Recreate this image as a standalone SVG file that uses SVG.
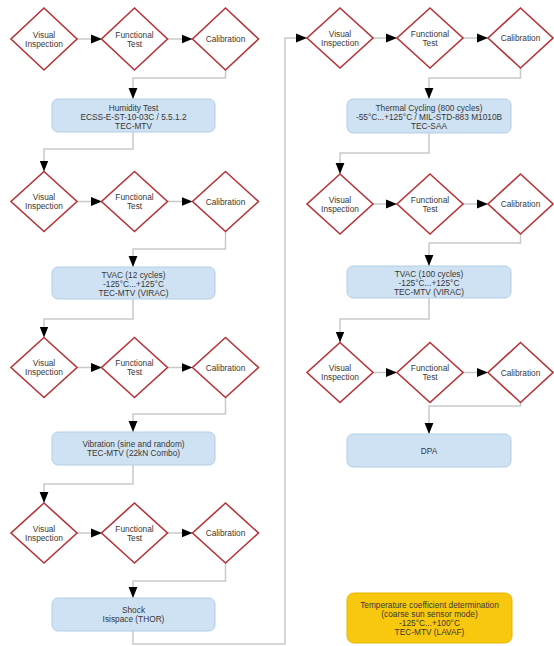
<svg xmlns="http://www.w3.org/2000/svg" width="554" height="646" viewBox="0 0 554 646">
<style>
.dia{fill:#fff;stroke:#b5343a;stroke-width:1.6}
.box{fill:#cfe2f3;stroke:#b3cfe5;stroke-width:1}
.ybox{fill:#f8c80f;stroke:#e6b400;stroke-width:1}
.t{font-family:"Liberation Sans",Arial,sans-serif;font-size:8.3px;fill:#383838;text-anchor:middle}
.c{fill:none;stroke:#c9c9c9;stroke-width:1.5}
</style>
<defs>
<marker id="ah" markerUnits="userSpaceOnUse" markerWidth="11" markerHeight="11" viewBox="0 0 10 10" refX="10" refY="5" orient="auto">
<path d="M0,1 L10,5 L0,9 Z" fill="#000"/>
</marker>
</defs>
<rect width="554" height="646" fill="#fff"/>
<g id="connectors">
<path class="c" d="M77 39 H102" marker-end="url(#ah)"/>
<path class="c" d="M167.5 39 H192.5" marker-end="url(#ah)"/>
<path class="c" d="M225.5 69 V78 H133 V99" marker-end="url(#ah)"/>
<path class="c" d="M133 132 V149 H44 V171.5" marker-end="url(#ah)"/>
<path class="c" d="M77 201.5 H102" marker-end="url(#ah)"/>
<path class="c" d="M167.5 201.5 H192.5" marker-end="url(#ah)"/>
<path class="c" d="M225.5 231.5 V249 H133 V267" marker-end="url(#ah)"/>
<path class="c" d="M133 299 V319 H44 V337.5" marker-end="url(#ah)"/>
<path class="c" d="M77 367.5 H102" marker-end="url(#ah)"/>
<path class="c" d="M167.5 367.5 H192.5" marker-end="url(#ah)"/>
<path class="c" d="M225.5 397.5 V414 H133 V432" marker-end="url(#ah)"/>
<path class="c" d="M133 465 V484 H44 V503" marker-end="url(#ah)"/>
<path class="c" d="M77 533 H102" marker-end="url(#ah)"/>
<path class="c" d="M167.5 533 H192.5" marker-end="url(#ah)"/>
<path class="c" d="M225.5 563 V581 H133 V598" marker-end="url(#ah)"/>
<path class="c" d="M133 631 V644 H285 V38 H307" marker-end="url(#ah)"/>
<path class="c" d="M373 38 H397" marker-end="url(#ah)"/>
<path class="c" d="M463 38 H488" marker-end="url(#ah)"/>
<path class="c" d="M520.5 68 V78 H429 V99" marker-end="url(#ah)"/>
<path class="c" d="M429 133 V153 H340 V174" marker-end="url(#ah)"/>
<path class="c" d="M373 204 H397" marker-end="url(#ah)"/>
<path class="c" d="M463 204 H488" marker-end="url(#ah)"/>
<path class="c" d="M520.5 234 V243 H429 V266" marker-end="url(#ah)"/>
<path class="c" d="M429 298 V319 H340 V342.5" marker-end="url(#ah)"/>
<path class="c" d="M373 372.5 H397" marker-end="url(#ah)"/>
<path class="c" d="M463 372.5 H488" marker-end="url(#ah)"/>
<path class="c" d="M520.5 402.5 V406 H429 V434" marker-end="url(#ah)"/>
</g>

<g id="vi-l1"><polygon class="dia" points="44,8 77,39 44,70 11,39"/><text class="t" x="44" y="37.5">Visual</text><text class="t" x="44" y="46.5">Inspection</text></g>
<g id="ft-l1"><polygon class="dia" points="134.5,8 167.5,39 134.5,70 101.5,39"/><text class="t" x="134.5" y="37.5">Functional</text><text class="t" x="134.5" y="46.5">Test</text></g>
<g id="cal-l1"><polygon class="dia" points="225.5,8 258.5,39 225.5,70 192.5,39"/><text class="t" x="225.5" y="42">Calibration</text></g>
<g id="humidity"><rect class="box" x="52" y="99" width="163" height="33" rx="6"/><text class="t" x="133.5" y="110.5">Humidity Test</text><text class="t" x="133.5" y="119.5">ECSS-E-ST-10-03C / 5.5.1.2</text><text class="t" x="133.5" y="128.5">TEC-MTV</text></g>

<g id="vi-l2"><polygon class="dia" points="44,171.5 77,201.5 44,231.5 11,201.5"/><text class="t" x="44" y="200">Visual</text><text class="t" x="44" y="209">Inspection</text></g>
<g id="ft-l2"><polygon class="dia" points="134.5,171.5 167.5,201.5 134.5,231.5 101.5,201.5"/><text class="t" x="134.5" y="200">Functional</text><text class="t" x="134.5" y="209">Test</text></g>
<g id="cal-l2"><polygon class="dia" points="225.5,171.5 258.5,201.5 225.5,231.5 192.5,201.5"/><text class="t" x="225.5" y="204.5">Calibration</text></g>
<g id="tvac12"><rect class="box" x="52" y="267" width="163" height="32" rx="6"/><text class="t" x="133.5" y="277.5">TVAC (12 cycles)</text><text class="t" x="133.5" y="286.5">-125°C...+125°C</text><text class="t" x="133.5" y="295.5">TEC-MTV (VIRAC)</text></g>

<g id="vi-l3"><polygon class="dia" points="44,337.5 77,367.5 44,397.5 11,367.5"/><text class="t" x="44" y="366">Visual</text><text class="t" x="44" y="375">Inspection</text></g>
<g id="ft-l3"><polygon class="dia" points="134.5,337.5 167.5,367.5 134.5,397.5 101.5,367.5"/><text class="t" x="134.5" y="366">Functional</text><text class="t" x="134.5" y="375">Test</text></g>
<g id="cal-l3"><polygon class="dia" points="225.5,337.5 258.5,367.5 225.5,397.5 192.5,367.5"/><text class="t" x="225.5" y="370.5">Calibration</text></g>
<g id="vibration"><rect class="box" x="52" y="432" width="163" height="33" rx="6"/><text class="t" x="133.5" y="447">Vibration (sine and random)</text><text class="t" x="133.5" y="456">TEC-MTV (22kN Combo)</text></g>

<g id="vi-l4"><polygon class="dia" points="44,503 77,533 44,563 11,533"/><text class="t" x="44" y="531.5">Visual</text><text class="t" x="44" y="540.5">Inspection</text></g>
<g id="ft-l4"><polygon class="dia" points="134.5,503 167.5,533 134.5,563 101.5,533"/><text class="t" x="134.5" y="531.5">Functional</text><text class="t" x="134.5" y="540.5">Test</text></g>
<g id="cal-l4"><polygon class="dia" points="225.5,503 258.5,533 225.5,563 192.5,533"/><text class="t" x="225.5" y="536">Calibration</text></g>
<g id="shock"><rect class="box" x="52" y="598" width="163" height="33" rx="6"/><text class="t" x="133.5" y="613">Shock</text><text class="t" x="133.5" y="622">Isispace (THOR)</text></g>

<g id="vi-r1"><polygon class="dia" points="340,8 373,38 340,68 307,38"/><text class="t" x="340" y="36.5">Visual</text><text class="t" x="340" y="45.5">Inspection</text></g>
<g id="ft-r1"><polygon class="dia" points="430,8 463,38 430,68 397,38"/><text class="t" x="430" y="36.5">Functional</text><text class="t" x="430" y="45.5">Test</text></g>
<g id="cal-r1"><polygon class="dia" points="520.5,8 553,38 520.5,68 488,38"/><text class="t" x="520.5" y="41">Calibration</text></g>
<g id="thermal"><rect class="box" x="347" y="99" width="164" height="34" rx="6"/><text class="t" x="429" y="110.5">Thermal Cycling (800 cycles)</text><text class="t" x="429" y="119.5">-55°C...+125°C / MIL-STD-883 M1010B</text><text class="t" x="429" y="128.5">TEC-SAA</text></g>

<g id="vi-r2"><polygon class="dia" points="340,174 373,204 340,234 307,204"/><text class="t" x="340" y="202.5">Visual</text><text class="t" x="340" y="211.5">Inspection</text></g>
<g id="ft-r2"><polygon class="dia" points="430,174 463,204 430,234 397,204"/><text class="t" x="430" y="202.5">Functional</text><text class="t" x="430" y="211.5">Test</text></g>
<g id="cal-r2"><polygon class="dia" points="520.5,174 553,204 520.5,234 488,204"/><text class="t" x="520.5" y="207">Calibration</text></g>
<g id="tvac100"><rect class="box" x="347" y="266" width="164" height="32" rx="6"/><text class="t" x="429" y="276.5">TVAC (100 cycles)</text><text class="t" x="429" y="285.5">-125°C...+125°C</text><text class="t" x="429" y="294.5">TEC-MTV (VIRAC)</text></g>

<g id="vi-r3"><polygon class="dia" points="340,342.5 373,372.5 340,402.5 307,372.5"/><text class="t" x="340" y="371">Visual</text><text class="t" x="340" y="380">Inspection</text></g>
<g id="ft-r3"><polygon class="dia" points="430,342.5 463,372.5 430,402.5 397,372.5"/><text class="t" x="430" y="371">Functional</text><text class="t" x="430" y="380">Test</text></g>
<g id="cal-r3"><polygon class="dia" points="520.5,342.5 553,372.5 520.5,402.5 488,372.5"/><text class="t" x="520.5" y="375.5">Calibration</text></g>
<g id="dpa"><rect class="box" x="347" y="434" width="164" height="33" rx="6"/><text class="t" x="429" y="453.5">DPA</text></g>

<g id="tempcoef"><rect class="ybox" x="347" y="593" width="165" height="50" rx="7"/><text class="t" x="429.5" y="608">Temperature coefficient determination</text><text class="t" x="429.5" y="617">(coarse sun sensor mode)</text><text class="t" x="429.5" y="626">-125°C...+100°C</text><text class="t" x="429.5" y="635">TEC-MTV (LAVAF)</text></g>
</svg>
